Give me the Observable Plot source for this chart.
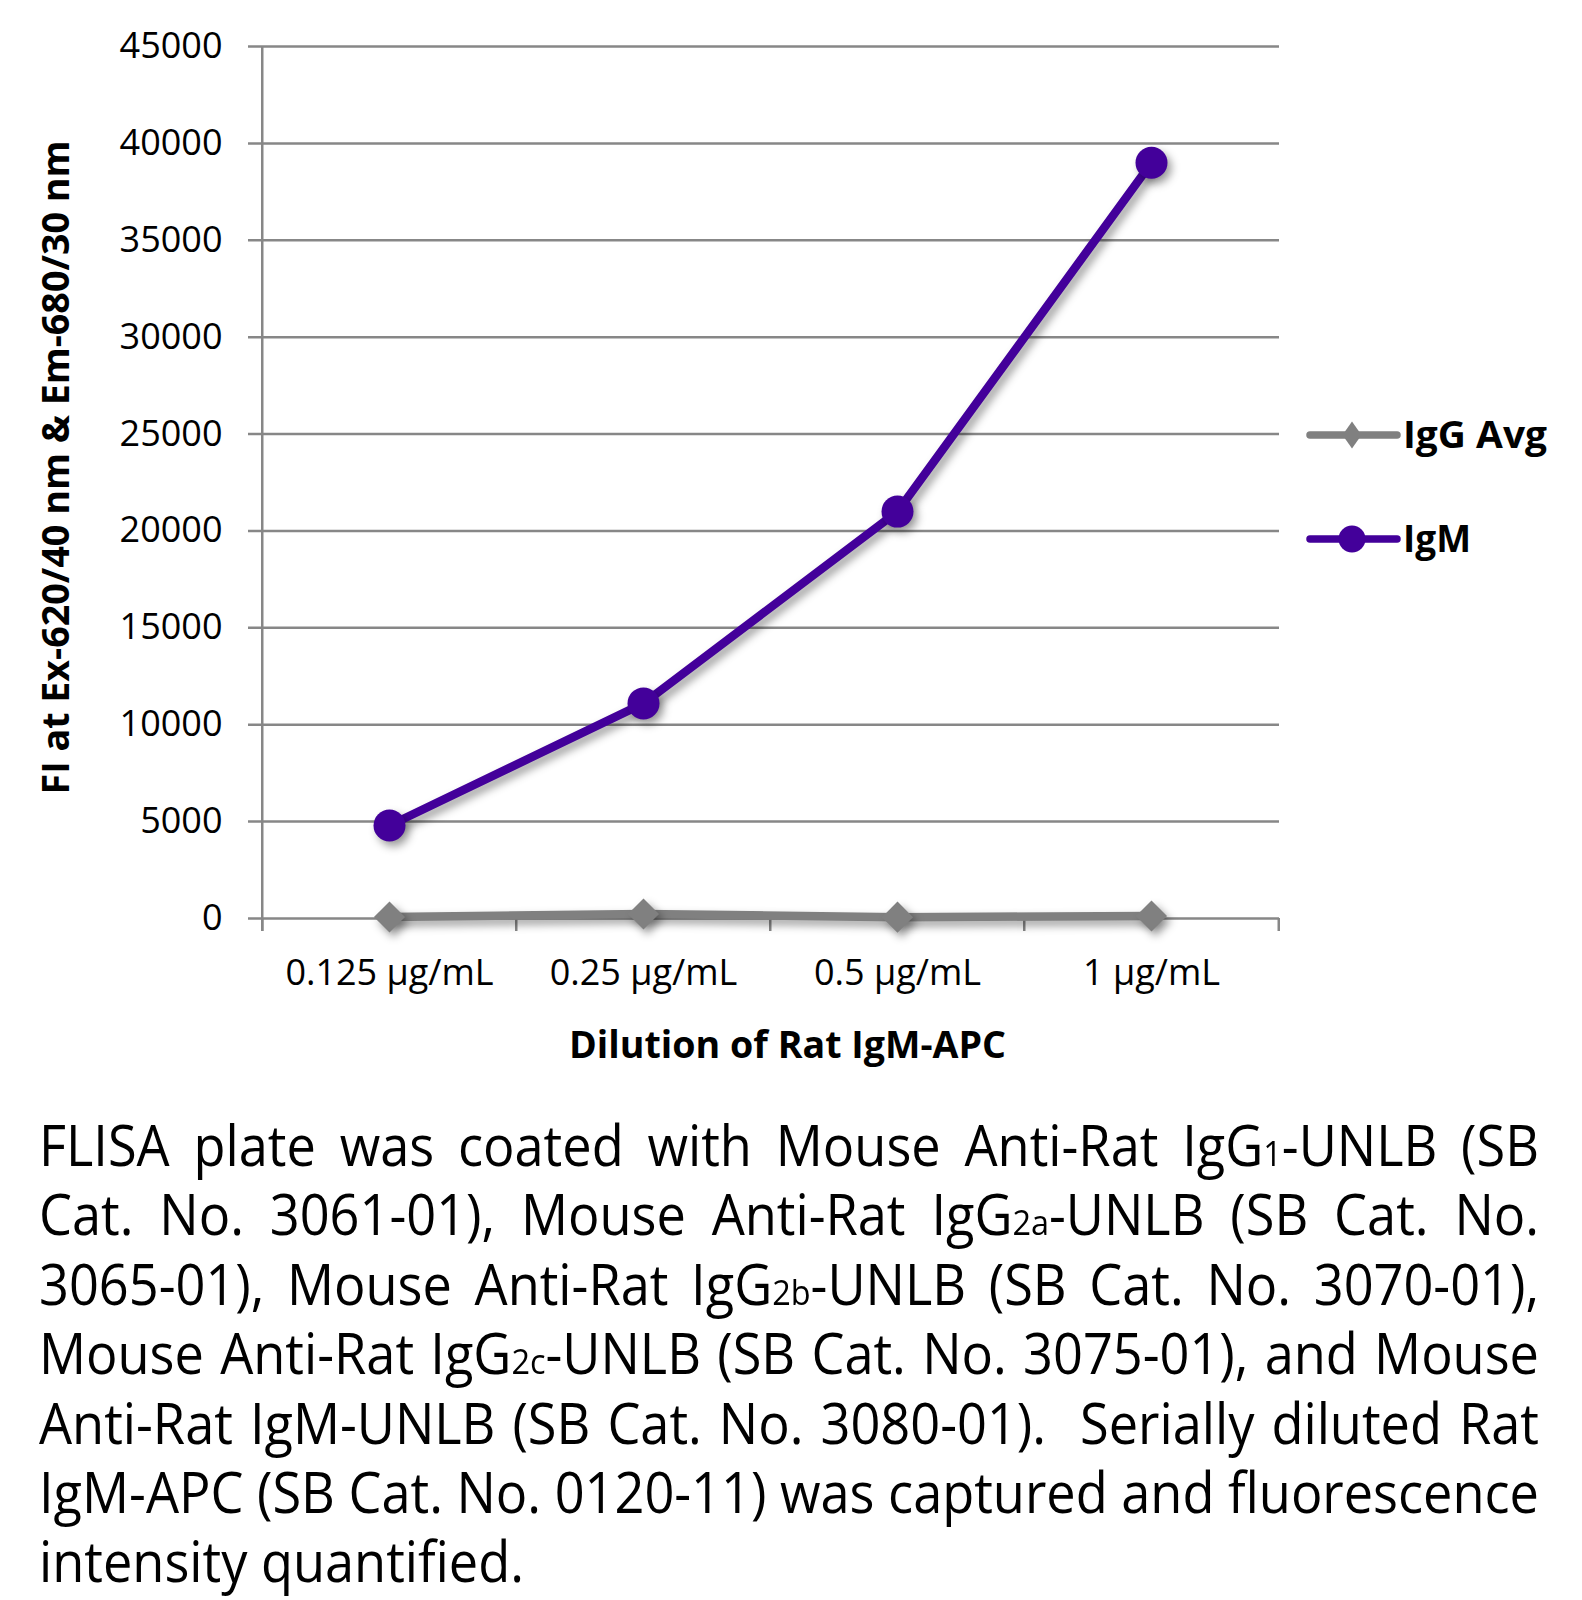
<!DOCTYPE html>
<html>
<head>
<meta charset="utf-8">
<script src="https://cdn.jsdelivr.net/npm/d3@7"></script>
<script src="https://cdn.jsdelivr.net/npm/@observablehq/plot@0.6"></script>
<style>
  body { margin: 0; background: #fff; font-family: "Open Sans", sans-serif; }
  #wrap { position: relative; width: 1582px; height: 1600px; overflow: hidden; background: #fff; }
  #chart { position: absolute; left: 0; top: 0; }
  #legend { position: absolute; left: 1290px; top: 380px; }
  #caption { position: absolute; left: 39px; top: 1110px; font-size: 56px; line-height: 69.4px; color: #000; font-family: "Open Sans", sans-serif; }
  .cl { transform-origin: 0 0; text-align: justify; text-align-last: justify; height: 69.4px; overflow: visible; }
  .cl.last { text-align-last: left; }
  .sub { font-size: 0.62em; }
  .measure { display: inline-block; white-space: nowrap; }
  #chart g[aria-label="line"], #chart g[aria-label="dot"] { filter: drop-shadow(4px 5px 4px rgba(0,0,0,0.38)); }
</style>
</head>
<body>
<div id="wrap">
  <div id="chart"></div>
  <svg id="legend" width="292" height="220"></svg>
  <div id="caption"></div>
</div>
<script>
// ---- data ----
const categories = ["0.125 µg/mL", "0.25 µg/mL", "0.5 µg/mL", "1 µg/mL"];
const seriesNames = ["IgG Avg", "IgM"];
const iggValues = [80, 230, 70, 130];
const igmValues = [4800, 11100, 21000, 39000];
const yTicks = [0, 5000, 10000, 15000, 20000, 25000, 30000, 35000, 40000, 45000];
const seriesColors = ["#808080", "#43009a"];
const xTitle = "Dilution of Rat IgM-APC";
const yTitle = "FI at Ex-620/40 nm & Em-680/30 nm";
const captionLines = [
  'FLISA plate was coated with Mouse Anti-Rat IgG<span class="sub">1</span>-UNLB (SB',
  'Cat. No. 3061-01), Mouse Anti-Rat IgG<span class="sub">2a</span>-UNLB (SB Cat. No.',
  '3065-01), Mouse Anti-Rat IgG<span class="sub">2b</span>-UNLB (SB Cat. No. 3070-01),',
  'Mouse Anti-Rat IgG<span class="sub">2c</span>-UNLB (SB Cat. No. 3075-01), and Mouse',
  'Anti-Rat IgM-UNLB (SB Cat. No. 3080-01).&nbsp; Serially diluted Rat',
  'IgM-APC (SB Cat. No. 0120-11) was captured and fluorescence',
  'intensity quantified.'
];

const rows = [];
seriesNames.forEach((s, si) => {
  const vals = si === 0 ? iggValues : igmValues;
  categories.forEach((c, ci) => rows.push({series: s, dilution: c, value: vals[ci]}));
});

// ---- layout ----
const W = 1582, H = 1100;
const mL = 261, mR = 303, mT = 46, mB = H - 918;
const step = (W - mL - mR) / categories.length;
const grid = "#878787";

const plot = Plot.plot({
  width: W, height: H,
  marginLeft: mL, marginRight: mR, marginTop: mT, marginBottom: mB,
  style: {fontFamily: "'Open Sans', sans-serif", fontSize: "36px", color: "#000", background: "transparent", overflow: "visible"},
  x: {type: "point", domain: categories, padding: 0.5, label: null},
  y: {domain: [0, 45000], label: null},
  color: {domain: seriesNames, range: seriesColors},
  marks: [
    Plot.ruleY(yTicks, {y: d => d, stroke: grid, strokeWidth: 2.5, insetLeft: -13}),
    Plot.ruleX([categories[0]], {x: d => d, dx: -step / 2, y1: 45000, y2: 0, insetBottom: -13, stroke: grid, strokeWidth: 2.5}),
    Plot.ruleX(categories, {x: d => d, dx: -step / 2, y1: 0, y2: 0, insetBottom: -13, stroke: grid, strokeWidth: 2.5}),
    Plot.ruleX([categories[categories.length - 1]], {x: d => d, dx: step / 2, y1: 0, y2: 0, insetBottom: -13, stroke: grid, strokeWidth: 2.5}),
    Plot.axisY({ticks: yTicks, tickSize: 0, tickPadding: 39, tickFormat: d3.format("d"), label: null, fill: "#000"}),
    Plot.axisX({tickSize: 0, tickPadding: 41, label: null, fill: "#000"}),
    Plot.line(rows, {x: "dilution", y: "value", z: "series", stroke: "series", strokeWidth: 8.5, strokeLinecap: "round", strokeLinejoin: "round"}),
    Plot.dot(rows.filter(d => d.series === seriesNames[0]), {x: "dilution", y: "value", symbol: "diamond2", r: 14, fill: "series", stroke: "none"}),
    Plot.dot(rows.filter(d => d.series === seriesNames[1]), {x: "dilution", y: "value", symbol: "circle", r: 16, fill: "series", stroke: "none"}),
    Plot.text([xTitle], {text: d => d, frameAnchor: "bottom", lineAnchor: "middle", textAnchor: "middle", dx: 17, dy: 127, fontWeight: "bold", fontSize: 38, fill: "#000"}),
    Plot.text([yTitle], {text: d => d, frameAnchor: "left", lineAnchor: "middle", textAnchor: "middle", rotate: -90, dx: -205, dy: -15, fontWeight: "bold", fontSize: 38, fill: "#000"})
  ]
});
document.getElementById("chart").appendChild(plot);

plot.querySelectorAll("text").forEach(t => {
  if (t.textContent === xTitle) { t.setAttribute("textLength", 437); t.setAttribute("lengthAdjust", "spacingAndGlyphs"); }
  if (t.textContent === yTitle) { t.setAttribute("textLength", 654); t.setAttribute("lengthAdjust", "spacingAndGlyphs"); }
});

// ---- legend ----
const lg = d3.select("#legend");
const legendRows = [{y: 55, base: 68, len: 144}, {y: 159, base: 172, len: 68}];
seriesNames.forEach((s, i) => {
  const r = legendRows[i];
  lg.append("line").attr("x1", 20).attr("x2", 107).attr("y1", r.y).attr("y2", r.y)
    .attr("stroke", seriesColors[i]).attr("stroke-width", 7.5).attr("stroke-linecap", "round");
  if (i === 0) {
    lg.append("polygon").attr("points", `62,${r.y - 13.5} 71.5,${r.y} 62,${r.y + 13.5} 52.5,${r.y}`).attr("fill", seriesColors[i]);
  } else {
    lg.append("circle").attr("cx", 62).attr("cy", r.y).attr("r", 13.5).attr("fill", seriesColors[i]);
  }
  lg.append("text").attr("x", 113).attr("y", r.base).text(s)
    .attr("font-family", "'Open Sans', sans-serif").attr("font-weight", "bold").attr("font-size", 38)
    .attr("textLength", r.len).attr("lengthAdjust", "spacingAndGlyphs").attr("fill", "#000");
});

// ---- caption ----
const cap = document.getElementById("caption");
const capWidth = 1500;
const measures = captionLines.map(html => {
  const s = document.createElement("span");
  s.className = "measure";
  s.innerHTML = html;
  cap.appendChild(s);
  const w = s.getBoundingClientRect().width;
  cap.removeChild(s);
  return w;
});
const k = Math.min(1, capWidth / Math.max(...measures));
captionLines.forEach((html, i) => {
  const d = document.createElement("div");
  d.className = "cl" + (i === captionLines.length - 1 ? " last" : "");
  d.style.width = (capWidth / k) + "px";
  d.style.transform = `scaleX(${k})`;
  d.innerHTML = html;
  cap.appendChild(d);
});
</script>
</body>
</html>
